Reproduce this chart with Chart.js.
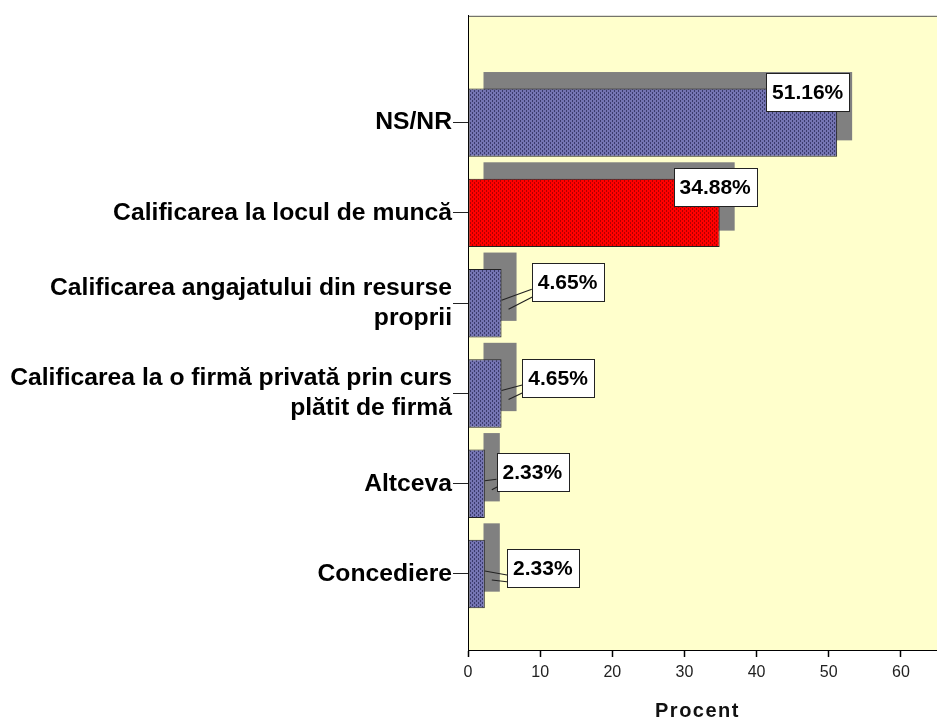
<!DOCTYPE html>
<html><head><meta charset="utf-8">
<script src="https://cdn.jsdelivr.net/npm/chart.js@4"></script>
<style>html,body{margin:0;padding:0;background:#fff}</style>
</head><body>
<canvas id="c" width="937" height="720"></canvas>
<script>
const categories = [
  'NS/NR',
  'Calificarea la locul de muncă',
  ['Calificarea angajatului din resurse', 'proprii'],
  ['Calificarea la o firmă privată prin curs', 'plătit de firmă'],
  'Altceva',
  'Concediere'
];
const values = [51.16, 34.88, 4.65, 4.65, 2.33, 2.33];
const xTickValues = [0, 10, 20, 30, 40, 50, 60];
const xTitle = 'Procent';
const barKinds = ['blue', 'red', 'blue', 'blue', 'blue', 'blue'];

const FONT = "'Liberation Sans', Arial, sans-serif";
const canvas = document.getElementById('c');
const ctx0 = canvas.getContext('2d');

function makePattern(base, dark) {
  const t = document.createElement('canvas');
  t.width = 4; t.height = 4;
  const g = t.getContext('2d');
  g.fillStyle = base; g.fillRect(0, 0, 4, 4);
  g.fillStyle = dark;
  [[0,0],[0,1],[2,2],[2,3]].forEach(([x,y]) => g.fillRect(x, y, 1, 1));
  return ctx0.createPattern(t, 'repeat');
}
const patterns = {
  blue: makePattern('#7474b2', '#3a3a6c'),
  red: makePattern('#ff0000', '#b00000')
};

const decorPlugin = {
  id: 'decor',
  beforeDraw(chart) {
    const {ctx, chartArea: a} = chart;
    ctx.save();
    ctx.fillStyle = '#ffffcc';
    ctx.fillRect(a.left, a.top, a.right - a.left, a.bottom - a.top);
    ctx.strokeStyle = '#555';
    ctx.lineWidth = 1;
    ctx.beginPath();
    ctx.moveTo(a.left, a.top + 0.5);
    ctx.lineTo(a.right, a.top + 0.5);
    ctx.stroke();
    ctx.restore();
  },
  beforeDatasetsDraw(chart, args, opts) {
    const {ctx} = chart;
    const meta = chart.getDatasetMeta(0);
    ctx.save();
    ctx.fillStyle = '#808080';
    meta.data.forEach(el => {
      const p = el.getProps(['x', 'y', 'base', 'height'], true);
      ctx.fillRect(p.base + opts.dx, p.y - p.height / 2 + opts.dy, p.x - p.base, p.height);
    });
    ctx.restore();
  },
  afterDatasetsDraw(chart, args, opts) {
    const {ctx} = chart;
    const meta = chart.getDatasetMeta(0);
    ctx.save();
    ctx.font = 'bold 21px ' + FONT;
    ctx.textAlign = 'center';
    ctx.textBaseline = 'middle';
    meta.data.forEach((el, i) => {
      const p = el.getProps(['x', 'y'], true);
      const txt = values[i].toFixed(2) + '%';
      const w = ctx.measureText(txt).width + 12;
      const h = 38;
      const off = opts.offsets[i];
      const cx = p.x + off[0], cy = p.y + off[1];
      const left = cx - w / 2;
      if (off[2]) {
        ctx.strokeStyle = '#222';
        ctx.lineWidth = 1.2;
        ctx.beginPath();
        ctx.moveTo(p.x, p.y - 3);
        ctx.lineTo(left, cy + 7);
        ctx.moveTo(p.x + 7, p.y + 6);
        ctx.lineTo(left + 2, cy + 14);
        ctx.stroke();
      }
      ctx.fillStyle = '#ffffff';
      ctx.fillRect(Math.round(left) + 0.5, Math.round(cy - h / 2) + 0.5, Math.round(w), h);
      ctx.strokeStyle = '#222';
      ctx.lineWidth = 1;
      ctx.strokeRect(Math.round(left) + 0.5, Math.round(cy - h / 2) + 0.5, Math.round(w), h);
      ctx.fillStyle = '#000';
      ctx.fillText(txt, cx, cy + 1);
    });
    ctx.restore();
  },
  afterDraw(chart, args, opts) {
    const {ctx, chartArea: a} = chart;
    ctx.save();
    ctx.font = 'bold 20px ' + FONT;
    ctx.letterSpacing = '1.5px';
    ctx.fillStyle = '#111';
    ctx.textAlign = 'center';
    ctx.textBaseline = 'middle';
    ctx.fillText(xTitle, (a.left + a.right) / 2 - 5, a.bottom + opts.titleGap);
    ctx.restore();
  }
};

new Chart(canvas, {
  type: 'bar',
  data: {
    datasets: [{
      data: values.map((v, i) => ({x: v, y: i})),
      backgroundColor: barKinds.map(k => patterns[k]),
      borderColor: '#222',
      borderWidth: 1,
      borderSkipped: false,
      barPercentage: 0.757,
      categoryPercentage: 1
    }]
  },
  plugins: [decorPlugin],
  options: {
    indexAxis: 'y',
    responsive: false,
    animation: false,
    events: [],
    layout: {padding: {top: 12, left: 0, right: 0, bottom: 0}},
    plugins: {
      legend: {display: false},
      tooltip: {enabled: false},
      decor: {
        dx: 15, dy: -16.5, titleGap: 61,
        offsets: [[-29.5, -30.5, 0], [-4.5, -25.5, 0], [66, -21, 1], [56.5, -15.5, 1], [47.5, -11.5, 1], [58, -6, 1]]
      }
    },
    scales: {
      x: {
        type: 'linear',
        min: 0, max: 65,
        afterBuildTicks(s) { s.ticks = xTickValues.map(v => ({value: v})); },
        afterFit(s) { s.height = 70; },
        grid: {drawOnChartArea: false, tickLength: 7, color: '#000', tickWidth: 1.5},
        border: {color: '#000', width: 1},
        ticks: {color: '#222', font: {family: FONT, size: 16}, padding: 6}
      },
      y: {
        type: 'linear',
        reverse: true,
        offset: false,
        min: -1.184, max: 5.842,
        afterBuildTicks(s) { s.ticks = categories.map((c, i) => ({value: i})); },
        afterFit(s) { s.width = 468; },
        grid: {drawOnChartArea: false, offset: false, tickLength: 15, color: '#222'},
        border: {color: '#000', width: 1},
        ticks: {
          color: '#000',
          padding: 1,
          font: {family: FONT, size: 24.7, weight: 'bold', lineHeight: 1.2},
          callback: (v) => categories[v]
        }
      }
    }
  }
});
</script>
</body></html>
